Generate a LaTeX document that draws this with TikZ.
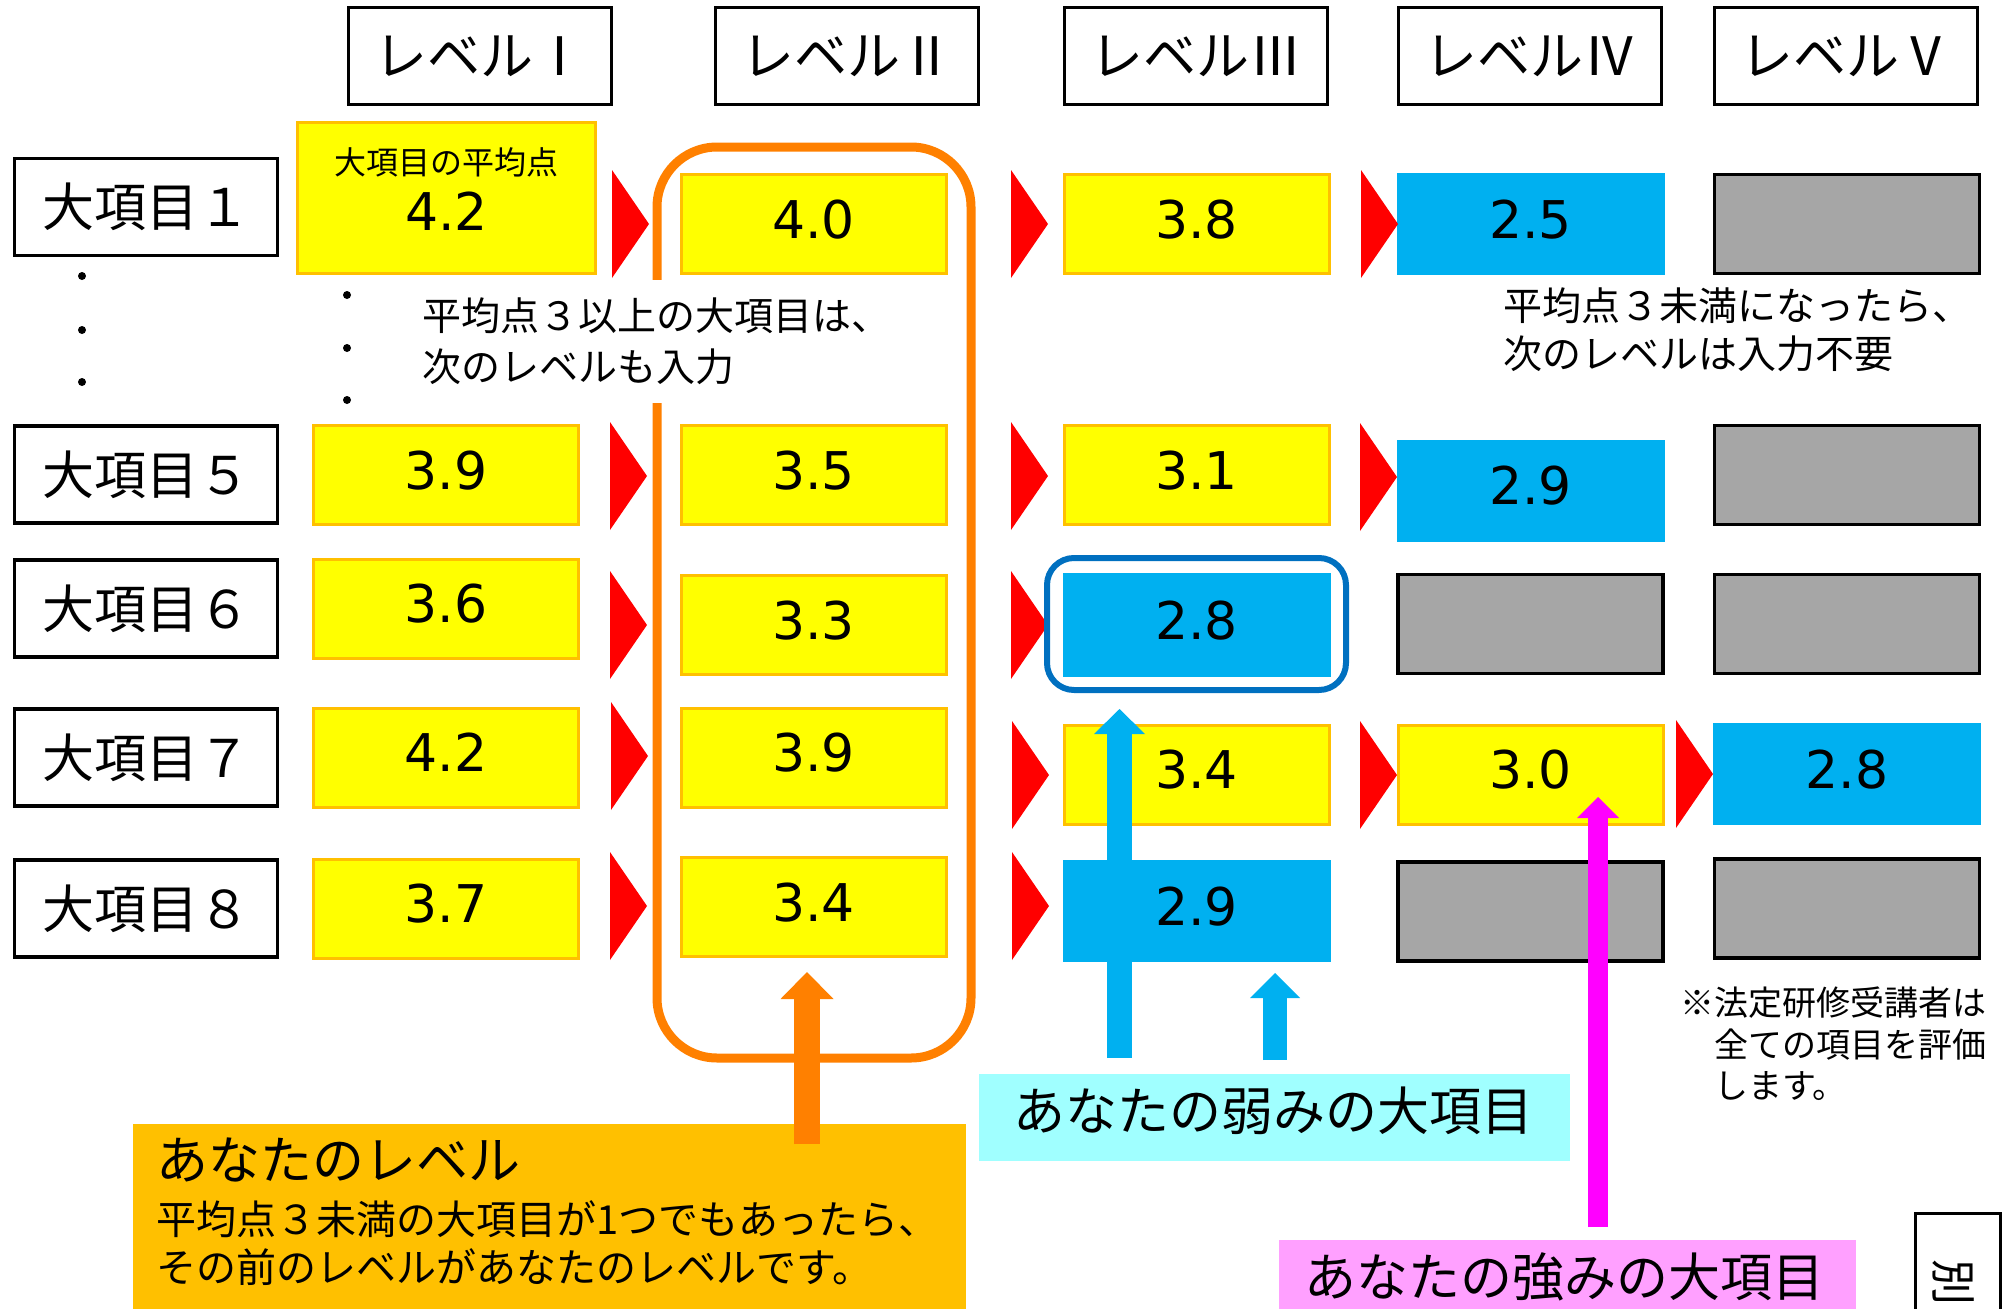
\documentclass[tikz,border=0pt]{standalone}
\usepackage{fontspec}
\newfontfamily\jp{Noto Sans CJK JP}
\newfontfamily\numf{DejaVu Sans}
\usetikzlibrary{arrows.meta}
\definecolor{cyel}{HTML}{FFFF00}
\definecolor{cyelb}{HTML}{FFC000}
\definecolor{cblue}{HTML}{00B0F0}
\definecolor{cgray}{HTML}{A6A6A6}
\definecolor{cred}{HTML}{FF0000}
\definecolor{corange}{HTML}{FF8000}
\definecolor{corbox}{HTML}{FFC000}
\definecolor{ccyan}{HTML}{A0FFFF}
\definecolor{cpink}{HTML}{FFA0FF}
\definecolor{cmag}{HTML}{FF00FF}
\definecolor{cdblue}{HTML}{0070C0}
\newcommand{\fsz}[2]{\fontsize{#1pt}{#2pt}\selectfont}
\newcommand{\rtri}[2]{\fill[cred] (#1,#2-54) -- (#1+37,#2) -- (#1,#2+54) -- cycle;}
\begin{document}
\begin{tikzpicture}[x=1pt,y=-1pt,
 hbox/.style={draw=black, line width=3.5pt, fill=white, minimum width=263pt, minimum height=97pt, inner sep=0pt, font=\jp\fsz{53}{60}},
 cellbase/.style={minimum width=265pt, minimum height=99pt, inner sep=0pt, font=\numf\fsz{52}{62}, text depth=10pt},
 ycell/.style={cellbase, fill=cyel, draw=cyelb, line width=3pt},
 bcell/.style={cellbase, fill=cblue, minimum width=268pt, minimum height=102pt},
 gcell/.style={cellbase, fill=cgray, draw=black, line width=3.5pt},
 txt/.style={inner sep=0pt, font=\jp, align=left},
 dot/.style={circle, fill=black, inner sep=0pt, minimum size=8pt},
 plainbox/.style={inner sep=0pt, anchor=north west},
]
\useasboundingbox (0,0) rectangle (2006,1309);
\clip (0,0) rectangle (2006,1309);

% headers
\node[hbox] (h1) at (480,56) {レベルⅠ};
\node[hbox] (h2) at (847,56) {レベルⅡ};
\node[hbox] (h3) at (1196,56) {レベルⅢ};
\node[hbox] (h4) at (1530,56) {レベルⅣ};
\node[hbox] (h5) at (1846,56) {レベルⅤ};

% row labels
\node[hbox, font=\jp\fsz{52}{60}] (r1) at (146,207) {大項目１};
\node[hbox, font=\jp\fsz{52}{60}] (r5) at (146,474.5) {大項目５};
\node[hbox, font=\jp\fsz{52}{60}] (r6) at (146,608.5) {大項目６};
\node[hbox, font=\jp\fsz{52}{60}] (r7) at (146,757.5) {大項目７};
\node[hbox, font=\jp\fsz{52}{60}] (r8) at (146,908.5) {大項目８};

% dots
\node[dot] (d1) at (82,276) {};
\node[dot] (d2) at (82,330) {};
\node[dot] (d3) at (82,382) {};
\node[dot] (d4) at (347,295) {};
\node[dot] (d5) at (347,348) {};
\node[dot] (d6) at (347,400) {};

% level I
\node[ycell, minimum width=298pt, minimum height=151pt] (c11) at (446.5,198) {};
\node[txt, font=\jp\fsz{32}{38}] (c11a) at (446.5,162) {大項目の平均点};
\node[inner sep=0pt, font=\numf\fsz{52}{62}] (c11b) at (446.5,211) {4.2};
\node[ycell] (c15) at (446,475) {3.9};
\node[ycell] (c16) at (446,608.5) {3.6};
\node[ycell] (c17) at (446,757.5) {4.2};
\node[ycell] (c18) at (446,908.5) {3.7};

% level II
\node[ycell] (c21) at (813.5,224) {4.0};
\node[ycell] (c25) at (813.5,475) {3.5};
\node[ycell] (c26) at (813.5,625) {3.3};
\node[ycell] (c27) at (813.5,757.5) {3.9};
\node[ycell] (c28) at (813.5,907) {3.4};

% level III
\node[ycell] (c31) at (1196.5,224) {3.8};
\node[ycell] (c35) at (1196.5,475) {3.1};
\node[bcell, minimum height=104pt] (c36) at (1196.5,625) {2.8};
\node[ycell] (c37) at (1196.5,774.5) {3.4};
\node[bcell] (c38) at (1196.5,911) {2.9};

% level IV
\node[bcell] (c41) at (1530.5,224) {2.5};
\node[bcell] (c45) at (1530.5,490.5) {2.9};
\node[gcell] (c46) at (1530.5,624) {};
\node[ycell] (c47) at (1530.5,774.5) {3.0};
\node[gcell] (c48) at (1530.5,911.5) {};

% level V
\node[gcell] (c51) at (1847,224) {};
\node[gcell] (c55) at (1847,475) {};
\node[gcell] (c56) at (1847,624) {};
\node[bcell] (c57) at (1847,774) {2.8};
\node[gcell] (c58) at (1847,908.5) {};

% red triangles
\rtri{612}{224}
\rtri{610}{476}
\rtri{610}{625}
\rtri{611}{756}
\rtri{610}{906}
\rtri{1011}{224}
\rtri{1011}{476}
\rtri{1011}{625}
\rtri{1012}{775}
\rtri{1012}{906}
\rtri{1361}{224}
\rtri{1360}{477}
\rtri{1360}{775}
\rtri{1676}{774}

% frames
\draw[cdblue, line width=6pt, rounded corners=27pt] (1047,558) rectangle (1346,690);
\draw[corange, line width=9pt, rounded corners=60pt] (657,147) rectangle (971,1058);

% notes
\node[txt, font=\jp\fsz{39}{51}, fill=white, inner xsep=6pt, inner ysep=18pt, anchor=west] (note1) at (416,341.5) {平均点３以上の大項目は、\\次のレベルも入力};
\node[txt, font=\jp\fsz{39}{48}, anchor=west] (note2) at (1503,330) {平均点３未満になったら、\\次のレベルは入力不要};
\node[txt, font=\jp\fsz{34}{41.5}, anchor=west] (note3) at (1680,1044) {※法定研修受講者は\\　全ての項目を評価\\　します。};

% bottom boxes
\node[plainbox, fill=corbox, minimum width=833pt, minimum height=196pt] (lvbox) at (133,1124) {};
\node[txt, font=\jp\fsz{52}{62}, anchor=west] (lvt) at (156,1160) {あなたのレベル};
\node[txt, font=\jp\fsz{40}{48}, anchor=west] (lvd) at (156,1243) {平均点３未満の大項目が1つでもあったら、\\その前のレベルがあなたのレベルです。};
\node[plainbox, fill=ccyan, minimum width=591pt, minimum height=87pt] (weak) at (979,1074) {};
\node[txt, font=\jp\fsz{52}{62}] (weakt) at (1273,1111) {あなたの弱みの大項目};
\node[plainbox, fill=cpink, minimum width=577pt, minimum height=80pt] (strong) at (1279,1240) {};
\node[txt, font=\jp\fsz{52}{62}] (strongt) at (1564,1277) {あなたの強みの大項目};
\node[plainbox, draw=black, line width=3pt, fill=white, minimum width=85pt, minimum height=120pt] (betsu) at (1913.5,1211.5) {};
\node[txt, font=\jp\fsz{46}{50}, rotate=-90] (betsut) at (1953,1282) {別};

% arrows
\coordinate (oaS) at (807,1144);
\coordinate (oaT) at (807,972);
\coordinate (ba1S) at (1119.5,1058);
\coordinate (ba1T) at (1119.5,709);
\coordinate (ba2S) at (1275,1060);
\coordinate (ba2T) at (1275,973);
\coordinate (maS) at (1598,1227);
\coordinate (maT) at (1598,797);
\draw[corange, line width=26pt, -{Triangle[width=53pt,length=27pt,line width=0pt]}] (oaS) -- (oaT);
\draw[cblue, line width=25pt, -{Triangle[width=51pt,length=25pt,line width=0pt]}] (ba1S) -- (ba1T);
\draw[cblue, line width=24pt, -{Triangle[width=50pt,length=25pt,line width=0pt]}] (ba2S) -- (ba2T);
\draw[cmag, line width=20pt, -{Triangle[width=42pt,length=21pt,line width=0pt]}] (maS) -- (maT);
\end{tikzpicture}
\end{document}
